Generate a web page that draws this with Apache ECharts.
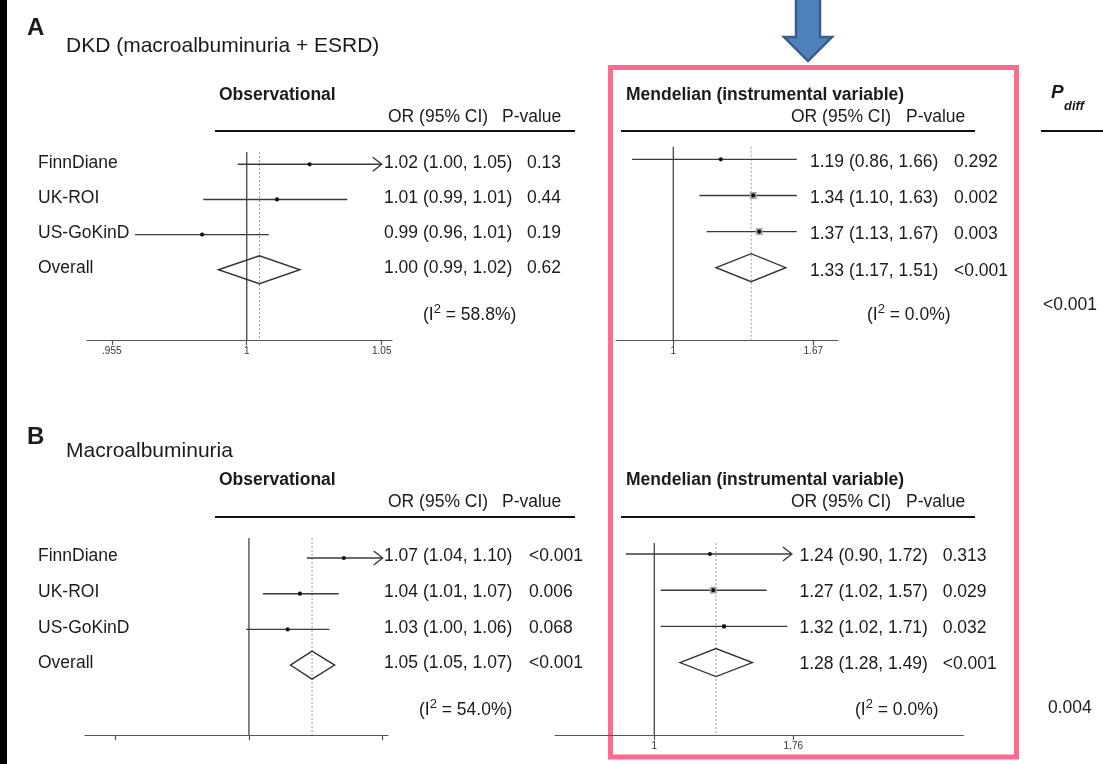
<!DOCTYPE html>
<html><head><meta charset="utf-8">
<script src="https://cdn.jsdelivr.net/npm/echarts@6/dist/echarts.min.js"></script>
<style>html,body{margin:0;padding:0;background:#fff}#c{width:1103px;height:764px}</style>
</head><body><div id="c"></div>
<script>
// ---------------- DATA ----------------
const studies = ['FinnDiane', 'UK-ROI', 'US-GoKinD', 'Overall'];

// A: DKD – Observational (marks)
const aObsEst = [1.023, 1.011, 0.984, 1.0046];
const aObsLo  = [0.9968, 0.9844, 0.9604, 0.9898];
const aObsHi  = [1.05, 1.037, 1.008, 1.0194];
const aObsArrow = [1, 0, 0, 0];
const aObsBox = [0, 0, 0, 0];
const aObsOR = ['1.02 (1.00, 1.05)', '1.01 (0.99, 1.01)', '0.99 (0.96, 1.01)', '1.00 (0.99, 1.02)'];
const aObsP  = ['0.13', '0.44', '0.19', '0.62'];
const aObsI2 = '58.8%';
const aObsTicks = [0.9524, 1, 1.05];
const aObsTickLabels = ['.955', '1', '1.05'];

// A: DKD – Mendelian
const aMrEst = [1.19, 1.34, 1.37, 1.33];
const aMrLo  = [0.86, 1.10, 1.13, 1.17];
const aMrHi  = [1.66, 1.63, 1.67, 1.51];
const aMrArrow = [0, 0, 0, 0];
const aMrBox = [0, 7, 7, 0];
const aMrOR = ['1.19 (0.86, 1.66)', '1.34 (1.10, 1.63)', '1.37 (1.13, 1.67)', '1.33 (1.17, 1.51)'];
const aMrP  = ['0.292', '0.002', '0.003', '<0.001'];
const aMrI2 = '0.0%';
const aMrTicks = [1, 1.67];
const aMrTickLabels = ['1', '1.67'];

// B: Macroalbuminuria – Observational
const bObsEst = [1.070, 1.037, 1.028, 1.046];
const bObsLo  = [1.042, 1.010, 0.998, 1.030];
const bObsHi  = [1.10, 1.066, 1.059, 1.063];
const bObsArrow = [1, 0, 0, 0];
const bObsBox = [0, 0, 0, 0];
const bObsOR = ['1.07 (1.04, 1.10)', '1.04 (1.01, 1.07)', '1.03 (1.00, 1.06)', '1.05 (1.05, 1.07)'];
const bObsP  = ['<0.001', '0.006', '0.068', '<0.001'];
const bObsI2 = '54.0%';
const bObsTicks = [0.9091, 1, 1.1];
const bObsTickLabels = ['', '', ''];

// B: Macroalbuminuria – Mendelian
const bMrEst = [1.254, 1.271, 1.328, 1.285];
const bMrLo  = [0.891, 1.026, 1.026, 1.11];
const bMrHi  = [1.75, 1.579, 1.718, 1.49];
const bMrArrow = [1, 0, 0, 0];
const bMrBox = [0, 7, 4, 0];
const bMrOR = ['1.24 (0.90, 1.72)', '1.27 (1.02, 1.57)', '1.32 (1.02, 1.71)', '1.28 (1.28, 1.49)'];
const bMrP  = ['0.313', '0.029', '0.032', '<0.001'];
const bMrI2 = '0.0%';
const bMrTicks = [1, 1.76];
const bMrTickLabels = ['1', '1.76'];

const pDiff = ['<0.001', '0.004'];

// ---------------- LAYOUT ----------------
const FONT = "'Liberation Sans', Arial, Helvetica, sans-serif";
const TXT = '#1b1b1b';
const LINE = '#3a3a3a';
const BODY = 17.5;

const panels = [
  { est: aObsEst, lo: aObsLo, hi: aObsHi, arrow: aObsArrow, box: aObsBox, orTxt: aObsOR, pTxt: aObsP, i2: aObsI2,
    ticks: aObsTicks, tickLabels: aObsTickLabels,
    left: 87, width: 305, top: 152, height: 188, xMin: 0.9439, xMax: 1.0539, yMin: -0.35, yMax: 5.0,
    clipMax: null, labels: true, orX: 384, pX: 527, textDy: -1.5, i2X: 423, i2Y: 315 },
  { est: aMrEst, lo: aMrLo, hi: aMrHi, arrow: aMrArrow, box: aMrBox, orTxt: aMrOR, pTxt: aMrP, i2: aMrI2,
    ticks: aMrTicks, tickLabels: aMrTickLabels,
    left: 616, width: 222, top: 146.7, height: 194, xMin: 0.8107, xMax: 1.8282, yMin: -0.35, yMax: 5.02,
    clipMax: 1.572, labels: false, orX: 810, pX: 954, textDy: 3, i2X: 867, i2Y: 315 },
  { est: bObsEst, lo: bObsLo, hi: bObsHi, arrow: bObsArrow, box: bObsBox, orTxt: bObsOR, pTxt: bObsP, i2: bObsI2,
    ticks: bObsTicks, tickLabels: bObsTickLabels,
    left: 85, width: 303, top: 538, height: 197, xMin: 0.8897, xMax: 1.1042, yMin: -0.56, yMax: 4.958,
    clipMax: null, labels: true, orX: 384, pX: 529, textDy: -1.5, i2X: 419, i2Y: 710 },
  { est: bMrEst, lo: bMrLo, hi: bMrHi, arrow: bMrArrow, box: bMrBox, orTxt: bMrOR, pTxt: bMrP, i2: bMrI2,
    ticks: bMrTicks, tickLabels: bMrTickLabels,
    left: 555, width: 408.3, top: 543, height: 192, xMin: 0.6678, xMax: 3.5135, yMin: -0.304, yMax: 5.0,
    clipMax: null, labels: false, orX: 799.5, pX: 942.7, textDy: 2, i2X: 855, i2Y: 710 }
];

const grids = [], xAxes = [], yAxes = [], series = [];

panels.forEach((p, i) => {
  grids.push({ left: p.left, top: p.top, width: p.width, height: p.height, outerBoundsMode: 'none', containLabel: false });
  const lnTicks = p.ticks.map(Math.log);
  xAxes.push({
    type: 'value', gridIndex: i, min: Math.log(p.xMin), max: Math.log(p.xMax),
    axisLine: { onZero: false, lineStyle: { color: '#555', width: 1.2 } },
    axisTick: { show: true, customValues: lnTicks, length: 5, lineStyle: { color: '#555', width: 1.2 } },
    axisLabel: {
      show: p.tickLabels.some(s => s !== ''),
      customValues: lnTicks, margin: 6, fontSize: 10, color: '#333', fontFamily: FONT,
      formatter: v => { const k = lnTicks.findIndex(t => Math.abs(t - v) < 1e-6); return k >= 0 ? p.tickLabels[k] : ''; }
    },
    splitLine: { show: false }
  });
  yAxes.push({ type: 'value', gridIndex: i, inverse: true, min: p.yMin, max: p.yMax, show: false });

  const lnOverall = Math.log(p.est[3]);
  // reference lines: null line (OR = 1) and dotted overall line
  series.push({
    type: 'custom', xAxisIndex: i, yAxisIndex: i, silent: true, clip: false,
    data: [[0, lnOverall]], encode: { x: 0, y: 1 },
    renderItem: (params, api) => {
      const yT = api.coord([0, p.yMin])[1], yB = api.coord([0, p.yMax])[1];
      const x0 = api.coord([api.value(0), p.yMin])[0];
      const x1 = api.coord([api.value(1), p.yMin])[0];
      return { type: 'group', children: [
        { type: 'line', shape: { x1: x1, y1: yT, x2: x1, y2: yB }, style: { stroke: '#9a9a9a', lineWidth: 1, lineDash: [2, 2] } },
        { type: 'line', shape: { x1: x0, y1: yT, x2: x0, y2: yB }, style: { stroke: '#444', lineWidth: 1.3 } }
      ]};
    }
  });

  // CI lines, points, boxes, diamond
  const rowData = p.est.map((e, r) => {
    const hiD = p.clipMax ? Math.min(p.hi[r], p.clipMax) : p.hi[r];
    return [r, Math.log(p.lo[r]), Math.log(hiD), Math.log(e), p.arrow[r], p.box[r], r === 3 ? 1 : 0];
  });
  series.push({
    type: 'custom', xAxisIndex: i, yAxisIndex: i, silent: true, clip: false,
    data: rowData, encode: { x: 3, y: 0 },
    renderItem: (params, api) => {
      const r = api.value(0);
      const y = api.coord([0, r])[1];
      const xl = api.coord([api.value(1), r])[0];
      const xh = api.coord([api.value(2), r])[0];
      const xe = api.coord([api.value(3), r])[0];
      const ch = [];
      if (api.value(6) === 1) {
        ch.push({ type: 'polygon', shape: { points: [[xl, y], [xe, y - 14], [xh, y], [xe, y + 14]] },
          style: { fill: 'none', stroke: '#333', lineWidth: 1.4 } });
      } else {
        ch.push({ type: 'line', shape: { x1: xl, y1: y, x2: xh, y2: y }, style: { stroke: LINE, lineWidth: 1.4 } });
        if (api.value(4) === 1) {
          ch.push({ type: 'polyline', shape: { points: [[xh - 9, y - 7], [xh, y], [xh - 9, y + 7]] },
            style: { fill: 'none', stroke: LINE, lineWidth: 1.4 } });
        }
        const b = api.value(5);
        if (b > 0) ch.push({ type: 'rect', shape: { x: xe - b / 2, y: y - b / 2, width: b, height: b }, style: { fill: '#a8a8a8' } });
        ch.push({ type: 'circle', shape: { cx: xe, cy: y, r: 2.1 }, style: { fill: '#111' } });
      }
      return { type: 'group', children: ch };
    }
  });

  // text columns
  series.push({
    type: 'custom', xAxisIndex: i, yAxisIndex: i, silent: true, clip: false,
    data: studies.map((s, r) => [0, r]), encode: { x: 0, y: 1 },
    renderItem: (params, api) => {
      const r = api.value(1);
      const y = api.coord([0, r])[1] + p.textDy;
      const mk = (x, t) => ({ type: 'text', x: x, y: y,
        style: { text: t, fill: TXT, fontSize: BODY, fontFamily: FONT, align: 'left', verticalAlign: 'middle' } });
      const ch = [];
      if (p.labels) ch.push(mk(38, studies[r]));
      ch.push(mk(p.orX, p.orTxt[r]));
      ch.push(mk(p.pX, p.pTxt[r]));
      return { type: 'group', children: ch };
    }
  });
});

// ---------------- GRAPHICS (annotations) ----------------
const txt = (x, y, t, size, weight, extra) => Object.assign({
  type: 'text', x: x, y: y, silent: true,
  style: Object.assign({ text: t, fill: TXT, fontSize: size, fontWeight: weight || 'normal', fontFamily: FONT, verticalAlign: 'middle', align: 'left' }, extra || {})
});
const hline = (x1, x2, y, w) => ({ type: 'line', silent: true, shape: { x1: x1, y1: y, x2: x2, y2: y }, style: { stroke: '#111', lineWidth: w || 2 } });
const i2txt = (x, y, v) => ({
  type: 'text', x: x, y: y, silent: true,
  style: { text: '(I{s|2} = ' + v + ')', fill: TXT, fontSize: BODY, fontFamily: FONT, verticalAlign: 'middle', align: 'left', lineHeight: 24,
    rich: { s: { fontSize: 13, fontFamily: FONT, fill: TXT, verticalAlign: 'top', lineHeight: 12 } } }
});

const graphics = [
  { type: 'rect', silent: true, shape: { x: 0, y: 0, width: 7, height: 764 }, style: { fill: '#000' } },
  txt(27, 28, 'A', 24, 'bold'),
  txt(66, 46, 'DKD (macroalbuminuria + ESRD)', 21),
  txt(27, 437, 'B', 24, 'bold'),
  txt(66, 451, 'Macroalbuminuria', 21),
  // headers A
  txt(219, 95, 'Observational', BODY, 'bold'),
  txt(388, 117, 'OR (95% CI)', BODY), txt(502, 117, 'P-value', BODY),
  hline(215, 575, 131),
  txt(626, 95, 'Mendelian (instrumental variable)', BODY, 'bold'),
  txt(791, 117, 'OR (95% CI)', BODY), txt(906, 117, 'P-value', BODY),
  hline(621, 975, 131),
  // headers B
  txt(219, 480, 'Observational', BODY, 'bold'),
  txt(388, 502, 'OR (95% CI)', BODY), txt(502, 502, 'P-value', BODY),
  hline(215, 575, 517),
  txt(626, 480, 'Mendelian (instrumental variable)', BODY, 'bold'),
  txt(791, 502, 'OR (95% CI)', BODY), txt(906, 502, 'P-value', BODY),
  hline(621, 975, 517),
  // P diff
  txt(1051, 93, 'P', 19, 'bold', { fontStyle: 'italic' }),
  txt(1064, 106, 'diff', 13, 'bold', { fontStyle: 'italic' }),
  hline(1041, 1103, 131),
  txt(1043, 305, pDiff[0], BODY),
  txt(1048, 708, pDiff[1], BODY),
  // I^2
  i2txt(panels[0].i2X, panels[0].i2Y, panels[0].i2),
  i2txt(panels[1].i2X, panels[1].i2Y, panels[1].i2),
  i2txt(panels[2].i2X, panels[2].i2Y, panels[2].i2),
  i2txt(panels[3].i2X, panels[3].i2Y, panels[3].i2),
  // highlight box and arrow
  { type: 'rect', silent: true, shape: { x: 610.5, y: 67.5, width: 406, height: 689.5 }, style: { fill: 'none', stroke: '#fd6a8e', lineWidth: 5 } },
  { type: 'polygon', silent: true, shape: { points: [[796, -2], [820, -2], [820, 37], [832, 37], [808, 61], [784, 37], [796, 37]] },
    style: { fill: '#4f81bd', stroke: '#385d8a', lineWidth: 2.5 } }
];

const chart = echarts.init(document.getElementById('c'), null, { renderer: 'canvas' });
chart.setOption({
  animation: false,
  backgroundColor: '#fff',
  grid: grids, xAxis: xAxes, yAxis: yAxes, series: series,
  graphic: { elements: graphics }
});
</script></body></html>
